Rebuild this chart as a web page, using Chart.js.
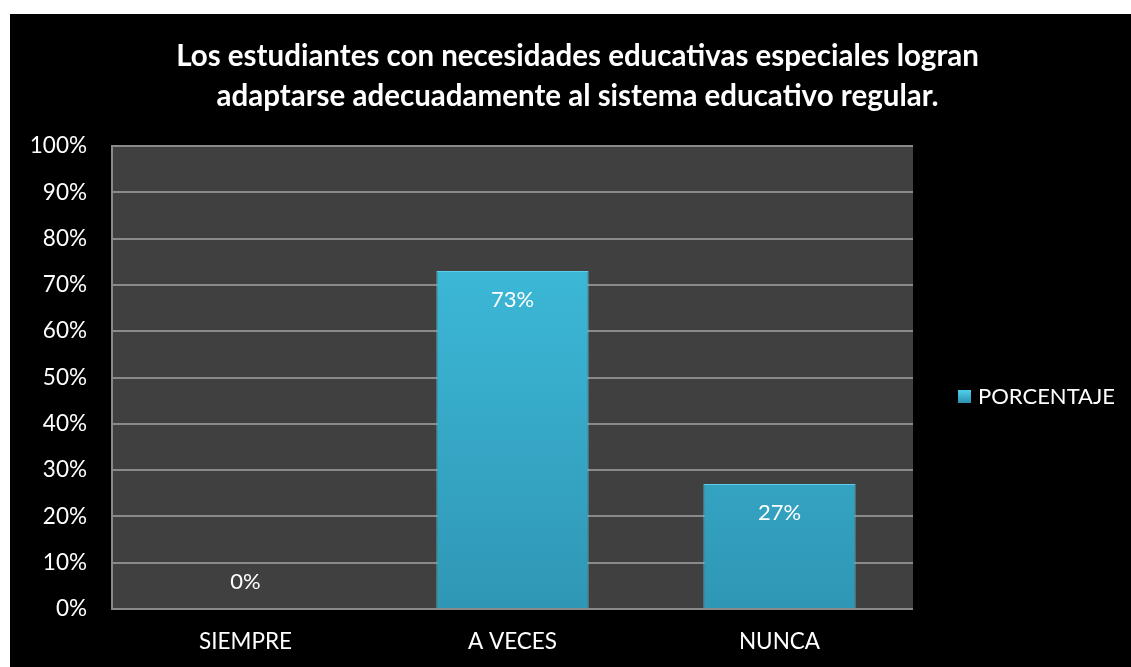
<!DOCTYPE html>
<html>
<head>
<meta charset="utf-8">
<script src="https://cdn.jsdelivr.net/npm/chart.js@4"></script>
<style>
    html, body { margin: 0; padding: 0; background: #ffffff; }
    #wrap { position: absolute; left: 10px; top: 14px; width: 1121px; height: 653px; background: #000000; }
</style>
</head>
<body>
<div id="wrap"><canvas id="barChart" width="1121" height="653"></canvas></div>
<script>
const categories = ['SIEMPRE', 'A VECES', 'NUNCA'];
const percentages = [0, 73, 27];
const seriesName = 'PORCENTAJE';
const titleLines = [
    'Los estudiantes con necesidades educativas especiales logran',
    'adaptarse adecuadamente al sistema educativo regular.'
];
const yTicks = [0, 10, 20, 30, 40, 50, 60, 70, 80, 90, 100];

(function () {
    const FONT = 'Lato, "Open Sans", sans-serif';

    function barFill(context) {
        const area = context.chart.chartArea;
        if (!area) return '#3cb9db';
        const g = context.chart.ctx.createLinearGradient(0, area.top, 0, area.bottom);
        g.addColorStop(0, '#41c3e3');
        g.addColorStop(1, '#2f97b5');
        return g;
    }

    // dark plot background
    const plotBackground = {
        id: 'plotBackground',
        beforeDraw(chart) {
            const a = chart.chartArea;
            const ctx = chart.ctx;
            ctx.save();
            ctx.fillStyle = '#404040';
            ctx.fillRect(a.left, a.top, a.right - a.left, a.bottom - a.top);
            ctx.restore();
        }
    };

    // title centred over the whole canvas
    const chartTitle = {
        id: 'chartTitle',
        afterDraw(chart) {
            const ctx = chart.ctx;
            ctx.save();
            ctx.font = 'bold 29.5px ' + FONT;
            ctx.fillStyle = '#ffffff';
            ctx.textAlign = 'center';
            ctx.textBaseline = 'middle';
            titleLines.forEach((line, i) => ctx.fillText(line, chart.width / 2 + 7, 42 + i * 40));
            ctx.restore();
        }
    };

    // value labels inside the bar top, above the base for empty bars
    const valueLabels = {
        id: 'valueLabels',
        afterDatasetsDraw(chart) {
            const ctx = chart.ctx;
            const meta = chart.getDatasetMeta(0);
            ctx.save();
            ctx.font = '22px ' + FONT;
            ctx.fillStyle = '#ffffff';
            ctx.textAlign = 'center';
            ctx.textBaseline = 'middle';
            meta.data.forEach((bar, i) => {
                const h = bar.base - bar.y;
                const y = h > 40 ? bar.y + 29 : bar.y - 27;
                ctx.fillText(percentages[i] + '%', bar.x, y);
            });
            ctx.restore();
        }
    };

    // legend on the right
    const sideLegend = {
        id: 'sideLegend',
        afterDraw(chart) {
            const ctx = chart.ctx;
            const x = 948, y = 383;
            ctx.save();
            const g = ctx.createLinearGradient(0, y - 7, 0, y + 7);
            g.addColorStop(0, '#4fd0ee');
            g.addColorStop(1, '#2a8cab');
            ctx.fillStyle = g;
            ctx.fillRect(x, y - 7, 13, 13);
            ctx.font = '22px ' + FONT;
            ctx.fillStyle = '#ffffff';
            ctx.textAlign = 'left';
            ctx.textBaseline = 'middle';
            ctx.fillText(chart.data.datasets[0].label, x + 20, y);
            ctx.restore();
        }
    };

    const ctx = document.getElementById('barChart').getContext('2d');
    new Chart(ctx, {
        type: 'bar',
        data: {
            labels: categories,
            datasets: [{
                label: seriesName,
                data: percentages,
                backgroundColor: barFill,
                borderColor: '#5ccfec',
                borderWidth: 1,
                categoryPercentage: 1,
                barPercentage: 0.57
            }]
        },
        options: {
            responsive: false,
            animation: false,
            layout: { padding: { left: 0, right: 218, top: 132, bottom: 0 } },
            plugins: {
                legend: { display: false },
                tooltip: { enabled: false },
                title: { display: false }
            },
            scales: {
                x: {
                    grid: { display: false, drawTicks: false },
                    border: { display: false },
                    ticks: { color: '#ffffff', font: { family: FONT, size: 22.5 }, padding: 19 },
                    afterFit(scale) { scale.height = 58; }
                },
                y: {
                    min: 0,
                    max: 100,
                    afterBuildTicks(scale) { scale.ticks = yTicks.map(v => ({ value: v })); },
                    grid: { color: '#8a8a8a', lineWidth: 2, drawTicks: false },
                    border: { display: true, color: '#8a8a8a', width: 2 },
                    ticks: {
                        color: '#ffffff',
                        font: { family: FONT, size: 22.5 },
                        padding: 25,
                        callback: v => v + '%'
                    },
                    afterFit(scale) { scale.width = 102; }
                }
            }
        },
        plugins: [plotBackground, valueLabels, sideLegend, chartTitle]
    });
})();
</script>
</body>
</html>
